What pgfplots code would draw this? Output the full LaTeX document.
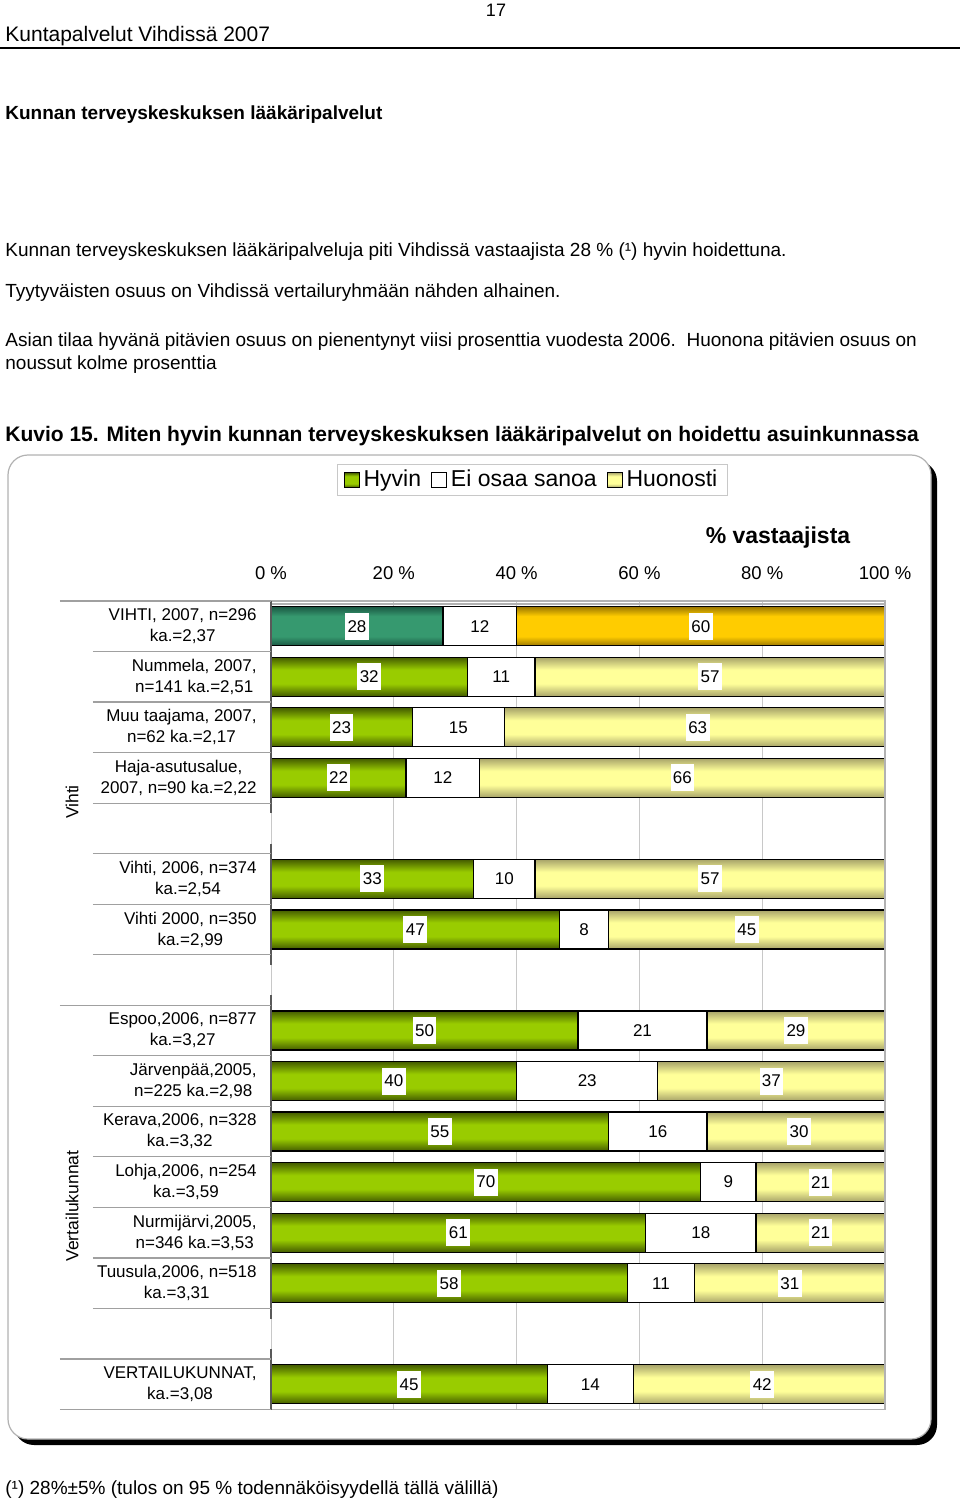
\documentclass[border=0pt]{standalone}
\usepackage{pgfplots}
\pgfplotsset{compat=1.18}
\usepackage{pgfplotstable}
\usepackage{fontspec}
\setmainfont{Liberation Sans}

\definecolor{gDark}{HTML}{445C00}
\definecolor{gMid}{HTML}{99CC00}
\definecolor{yDark}{HTML}{A8A46A}
\definecolor{yMid}{HTML}{FFFF99}
\definecolor{tDark}{HTML}{1B5843}
\definecolor{tMid}{HTML}{36996F}
\definecolor{oDark}{HTML}{9C7800}
\definecolor{oMid}{HTML}{FFCC00}
\definecolor{gridgray}{HTML}{C8C8C8}
\definecolor{sepgray}{HTML}{A0A0A0}

% single-bar shadings (legend squares, single-row plots)
\pgfdeclareverticalshading{gshade}{100bp}{color(0bp)=(gDark); color(25bp)=(gDark); color(37bp)=(gMid); color(63bp)=(gMid); color(75bp)=(gDark); color(100bp)=(gDark)}
\pgfdeclareverticalshading{yshade}{100bp}{color(0bp)=(yDark); color(25bp)=(yDark); color(37bp)=(yMid); color(63bp)=(yMid); color(75bp)=(yDark); color(100bp)=(yDark)}
\pgfdeclareverticalshading{tshade}{100bp}{color(0bp)=(tDark); color(25bp)=(tDark); color(37bp)=(tMid); color(63bp)=(tMid); color(75bp)=(tDark); color(100bp)=(tDark)}
\pgfdeclareverticalshading{oshade}{100bp}{color(0bp)=(oDark); color(25bp)=(oDark); color(37bp)=(oMid); color(63bp)=(oMid); color(75bp)=(oDark); color(100bp)=(oDark)}

% periodic shading: one gradient per row, for a plot whose bars fill rows 0..14
% row pitch 25.265625pt, bar 19.5pt, path height 373.21875pt -> 50bp
\newcommand\mkperiodic[3]{%
  \gdef\spec{color(0bp)=(#2)}%
  \foreach \k in {0,...,14}{%
    \pgfmathsetmacro\sa{25+\k*3.38484}%
    \pgfmathsetmacro\sb{\sa+0.83597}%
    \pgfmathsetmacro\sc{\sa+1.77644}%
    \pgfmathsetmacro\sd{\sa+2.61242}%
    \xdef\spec{\spec; color(\sa bp)=(#2); color(\sb bp)=(#3); color(\sc bp)=(#3); color(\sd bp)=(#2)}%
  }%
  \xdef\spec{\spec; color(100bp)=(#2)}%
  \edef\x{\noexpand\pgfdeclareverticalshading{#1}{100bp}{\spec}}\x
}
\mkperiodic{gper}{gDark}{gMid}
\mkperiodic{yper}{yDark}{yMid}

% p = position from the bottom (15 = top row)
\pgfplotstableread{
p hyv ei huon
15 28 12 60
}\vihti

\pgfplotstableread{
p hyv ei huon
14 32 11 57
13 23 15 63
12 22 12 66
10 33 10 57
9 47 8 45
7 50 21 29
6 40 23 37
5 55 16 30
4 70 9 21
3 61 18 21
2 58 11 31
0 45 14 42
}\muut

\pgfplotsset{
  common/.style={at={(135.5pt,-300.5pt)}, anchor=north west, scale only axis,
    width=307pt, height=404.25pt, xmin=0, xmax=100, ymin=-0.5, ymax=15.5},
  barstyle/.style 2 args={draw=black, line width=0.6pt, shade, shading=#1,
    legend image code/.code={\path[draw=black, line width=0.5pt, shade, shading=#2] (0pt,-3.7pt) rectangle (7.4pt,3.7pt);}},
}

\begin{document}
\begin{tikzpicture}[x=0.5pt, y=0.5pt]
\path[use as bounding box] (0,0) rectangle (960,-1502);

% page text
\node[anchor=base, inner sep=0pt, font=\fontsize{9}{11}\selectfont] at (496,-17) {17};
\node[anchor=base west, inner sep=0pt, font=\fontsize{10.5}{12}\selectfont] at (5,-42) {Kuntapalvelut Vihdissä 2007};
\draw[line width=1.2pt] (0,-48) -- (960,-48);
\node[anchor=base west, inner sep=0pt, font=\bfseries\fontsize{9.5}{11}\selectfont] at (5,-120) {Kunnan terveyskeskuksen lääkäripalvelut};
\node[anchor=base west, inner sep=0pt, font=\fontsize{9.5}{11}\selectfont] at (5,-257) {Kunnan terveyskeskuksen lääkäripalveluja piti Vihdissä vastaajista 28 \% (¹) hyvin hoidettuna.};
\node[anchor=base west, inner sep=0pt, font=\fontsize{9.5}{11}\selectfont] at (5,-298) {Tyytyväisten osuus on Vihdissä vertailuryhmään nähden alhainen.};
\node[anchor=base west, inner sep=0pt, font=\fontsize{9.5}{11}\selectfont] at (5,-347) {Asian tilaa hyvänä pitävien osuus on pienentynyt viisi prosenttia vuodesta 2006.\ \ Huonona pitävien osuus on};
\node[anchor=base west, inner sep=0pt, font=\fontsize{9.5}{11}\selectfont] at (5,-370) {noussut kolme prosenttia};
\node[anchor=base west, inner sep=0pt, font=\bfseries\fontsize{10.5}{12}\selectfont] at (5,-441) {Kuvio 15. Miten hyvin kunnan terveyskeskuksen lääkäripalvelut on hoidettu asuinkunnassa};
\node[anchor=base west, inner sep=0pt, font=\fontsize{9.5}{11}\selectfont] at (5,-1494) {(¹) 28\%±5\% (tulos on 95 \% todennäköisyydellä tällä välillä)};

% chart frame with shadow
\fill[black, rounded corners=10pt] (14,-461) rectangle (937,-1445);
\filldraw[fill=white, draw=gray!60, line width=0.6pt, rounded corners=10pt] (8,-455) rectangle (931,-1439);

% group labels
\node[rotate=90, font=\fontsize{8.75}{10}\selectfont] at (72,-802) {Vihti};
\node[rotate=90, font=\fontsize{8.75}{10}\selectfont] at (72,-1206) {Vertailukunnat};
\node[font=\bfseries\fontsize{11.5}{13}\selectfont] at (778,-538) {\% vastaajista};

% main axis
\begin{axis}[common,
  xbar stacked, bar width=19.5pt,
  axis line style={draw=none},
  xtick={0,20,40,60,80,100},
  xticklabels={0 \%,20 \%,40 \%,60 \%,80 \%,100 \%},
  xticklabel pos=upper,
  xticklabel style={font=\fontsize{9.25}{11}\selectfont, anchor=center, yshift=14pt},
  major tick length=0pt,
  xmajorgrids, grid style={draw=gridgray, line width=0.5pt},
  ytick={0,2,3,4,5,6,7,9,10,12,13,14,15},
  yticklabels={{VERTAILUKUNNAT,\\ka.=3,08},
    {Tuusula,2006, n=518\\ka.=3,31},
    {Nurmijärvi,2005,\\n=346 ka.=3,53},
    {Lohja,2006, n=254\\ka.=3,59},
    {Kerava,2006, n=328\\ka.=3,32},
    {Järvenpää,2005,\\n=225 ka.=2,98},
    {Espoo,2006, n=877\\ka.=3,27},
    {Vihti 2000, n=350\\ka.=2,99},
    {Vihti, 2006, n=374\\ka.=2,54},
    {Haja-asutusalue,\\2007, n=90 ka.=2,22},
    {Muu taajama, 2007,\\n=62 ka.=2,17},
    {Nummela, 2007,\\n=141 ka.=2,51},
    {VIHTI, 2007, n=296\\ka.=2,37}},
  yticklabel style={font=\fontsize{8.5}{10.5}\selectfont, align=center, anchor=east, inner sep=0pt, xshift=-7pt},
  legend columns=3,
  legend style={at={(0.426,1.1497)}, anchor=center, draw=gridgray, line width=0.6pt,
    font=\fontsize{11.5}{13}\selectfont, inner xsep=3pt, inner ysep=1pt,
    /tikz/every even column/.append style={column sep=3pt}},
]
\addplot[barstyle={gper}{gshade}] table[x=hyv, y=p] {\muut};
\addplot[draw=black, line width=0.6pt, fill=white,
  legend image code/.code={\path[draw=black, line width=0.5pt, fill=white] (0pt,-3.7pt) rectangle (7.4pt,3.7pt);}] table[x=ei, y=p] {\muut};
\addplot[barstyle={yper}{yshade}] table[x=huon, y=p] {\muut};
\legend{Hyvin, Ei osaa sanoa, Huonosti}
\end{axis}

% highlighted first row (VIHTI 2007)
\begin{axis}[common, hide axis, xbar stacked, bar width=19.5pt]
\addplot[barstyle={tshade}{tshade}] table[x=hyv, y=p] {\vihti};
\addplot[draw=black, line width=0.6pt, fill=white] table[x=ei, y=p] {\vihti};
\addplot[barstyle={oshade}{oshade}] table[x=huon, y=p] {\vihti};
\end{axis}

% value labels and axis decorations
\begin{axis}[common, hide axis, clip=false,
  nodes near coords, point meta=explicit symbolic,
  every node near coord/.append style={fill=white, font=\fontsize{8.5}{10}\selectfont,
    inner xsep=1.2pt, inner ysep=0pt, minimum height=13.5pt, anchor=center}]
\addplot[draw=none] table[x expr=\thisrow{hyv}/2, y=p, meta=hyv] {\muut};
\addplot[draw=none] table[x expr=\thisrow{hyv}+\thisrow{ei}/2, y=p, meta=ei] {\muut};
\addplot[draw=none] table[x expr=\thisrow{hyv}+\thisrow{ei}+\thisrow{huon}/2, y=p, meta=huon] {\muut};
\addplot[draw=none] table[x expr=\thisrow{hyv}/2, y=p, meta=hyv] {\vihti};
\addplot[draw=none] table[x expr=\thisrow{hyv}+\thisrow{ei}/2, y=p, meta=ei] {\vihti};
\addplot[draw=none] table[x expr=\thisrow{hyv}+\thisrow{ei}+\thisrow{huon}/2, y=p, meta=huon] {\vihti};
% frame of plot area
\draw[gray!60, line width=0.6pt] (axis cs:0,15.5) -- (axis cs:100,15.5) -- (axis cs:100,-0.5) -- (axis cs:0,-0.5);
\draw[gray!60, line width=0.6pt] ([yshift=-1.5pt]axis cs:0,15.5) -- ([yshift=-1.5pt]axis cs:100,15.5);
% left axis line segments
\draw[black!65, line width=0.6pt] (axis cs:0,15.5) -- (axis cs:0,11.3);
\draw[black!65, line width=0.6pt] (axis cs:0,10.7) -- (axis cs:0,8.3);
\draw[black!65, line width=0.6pt] (axis cs:0,7.7) -- (axis cs:0,1.3);
\draw[black!65, line width=0.6pt] (axis cs:0,0.7) -- (axis cs:0,-0.5);
% category separators
\pgfplotsinvokeforeach{15.5,7.5,0.5,-0.5}{\draw[sepgray, line width=0.6pt] (axis cs:-34.4,#1) -- (axis cs:0,#1);}
\pgfplotsinvokeforeach{14.5,13.5,12.5,11.5,10.5,9.5,8.5,6.5,5.5,4.5,3.5,2.5,1.5}{\draw[sepgray, line width=0.6pt] (axis cs:-29,#1) -- (axis cs:0,#1);}
\end{axis}
\end{tikzpicture}
\end{document}
